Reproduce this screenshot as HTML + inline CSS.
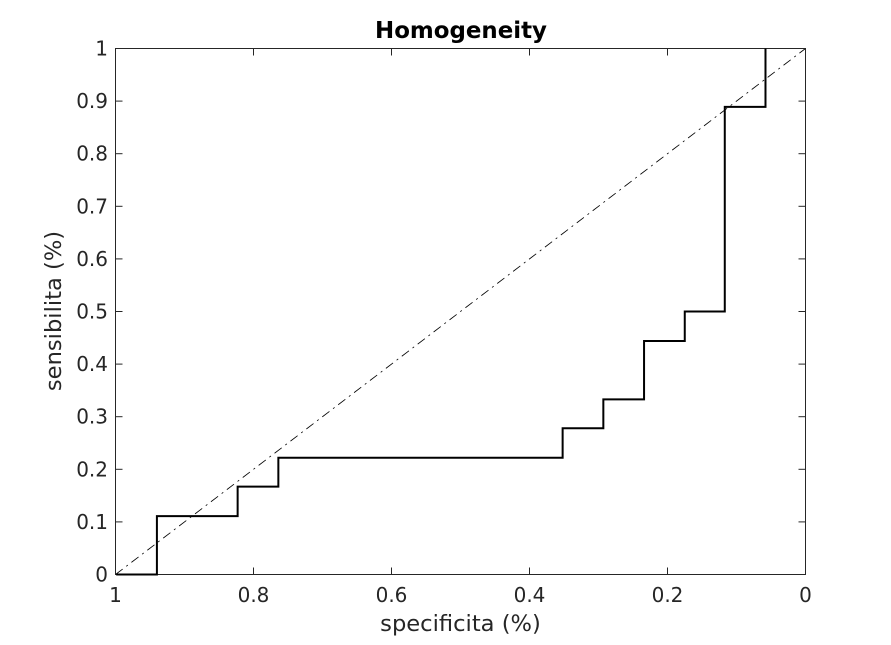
<!DOCTYPE html>
<html><head><meta charset="utf-8"><title>Homogeneity</title>
<style>html,body{margin:0;padding:0;background:#fff}svg{display:block}text{font-family:"DejaVu Sans",sans-serif;fill:#262626}</style>
</head><body>
<svg id="chart" width="891" height="645" viewBox="0 0 891 645" xmlns="http://www.w3.org/2000/svg">
<rect width="891" height="645" fill="#fff"/>
<text x="461" y="38" text-anchor="middle" font-size="22.9" font-weight="bold" style="fill:#000">Homogeneity</text>
<text x="460.5" y="631" text-anchor="middle" font-size="22.6">specificita (%)</text>
<text transform="translate(61 311) rotate(-90)" text-anchor="middle" font-size="22.6">sensibilita (%)</text>
</svg>
<script>
const xTicks = [1, 0.8, 0.6, 0.4, 0.2, 0];
const yTicks = [0, 0.1, 0.2, 0.3, 0.4, 0.5, 0.6, 0.7, 0.8, 0.9, 1];
const specificity = [1, 0.941, 0.941, 0.824, 0.824, 0.765, 0.765, 0.353, 0.353, 0.294, 0.294, 0.235, 0.235, 0.176, 0.176, 0.118, 0.118, 0.059, 0.059];
const sensitivity = [0, 0, 0.111, 0.111, 0.167, 0.167, 0.222, 0.222, 0.278, 0.278, 0.333, 0.333, 0.444, 0.444, 0.5, 0.5, 0.889, 0.889, 1];
const referenceX = [1, 0];
const referenceY = [0, 1];

const NS = 'http://www.w3.org/2000/svg';
const svg = document.getElementById('chart');
const L = 115.5, R = 805.5, T = 48.5, B = 574.5;
const sx = v => R - v * (R - L);
const sy = v => B - v * (B - T);
function make(tag, attrs) {
  const el = document.createElementNS(NS, tag);
  for (const k in attrs) el.setAttribute(k, attrs[k]);
  svg.appendChild(el);
  return el;
}
function pts(xs, ys, dx) {
  return xs.map((x, i) => (sx(x) + dx).toFixed(2) + ',' + sy(ys[i]).toFixed(2)).join(' ');
}

const refLine = make('polyline', {points: pts(referenceX, referenceY, 0), fill: 'none', stroke: '#000', 'stroke-width': 0.8, 'stroke-dasharray': '9 4.5 2 4.5'});



const box = make('rect', {x: L, y: T, width: R - L, height: B - T, fill: 'none', stroke: '#262626', 'stroke-width': 1});



xTicks.forEach(v => {
  const x = sx(v);
  const t1 = make('line', {x1: x, x2: x, y1: B, y2: B - 7, stroke: '#262626', 'stroke-width': 1});
  
  
  const t2 = make('line', {x1: x, x2: x, y1: T, y2: T + 7, stroke: '#262626', 'stroke-width': 1});
  
  
  const lab = make('text', {x: x, y: 602, 'text-anchor': 'middle', 'font-size': 20});
  
  
  lab.textContent = String(v);
});
yTicks.forEach(v => {
  const y = sy(v);
  const t1 = make('line', {x1: L, x2: L + 7, y1: y, y2: y, stroke: '#262626', 'stroke-width': 1});
  
  
  const t2 = make('line', {x1: R, x2: R - 7, y1: y, y2: y, stroke: '#262626', 'stroke-width': 1});
  
  
  const lab = make('text', {x: L - 7.5, y: y + 7, 'text-anchor': 'end', 'font-size': 20});
  
  
  lab.textContent = String(v);
});

const roc = make('polyline', {points: pts(specificity, sensitivity, 0.7), fill: 'none', stroke: '#000', 'stroke-width': 2});


</script>
</body></html>
